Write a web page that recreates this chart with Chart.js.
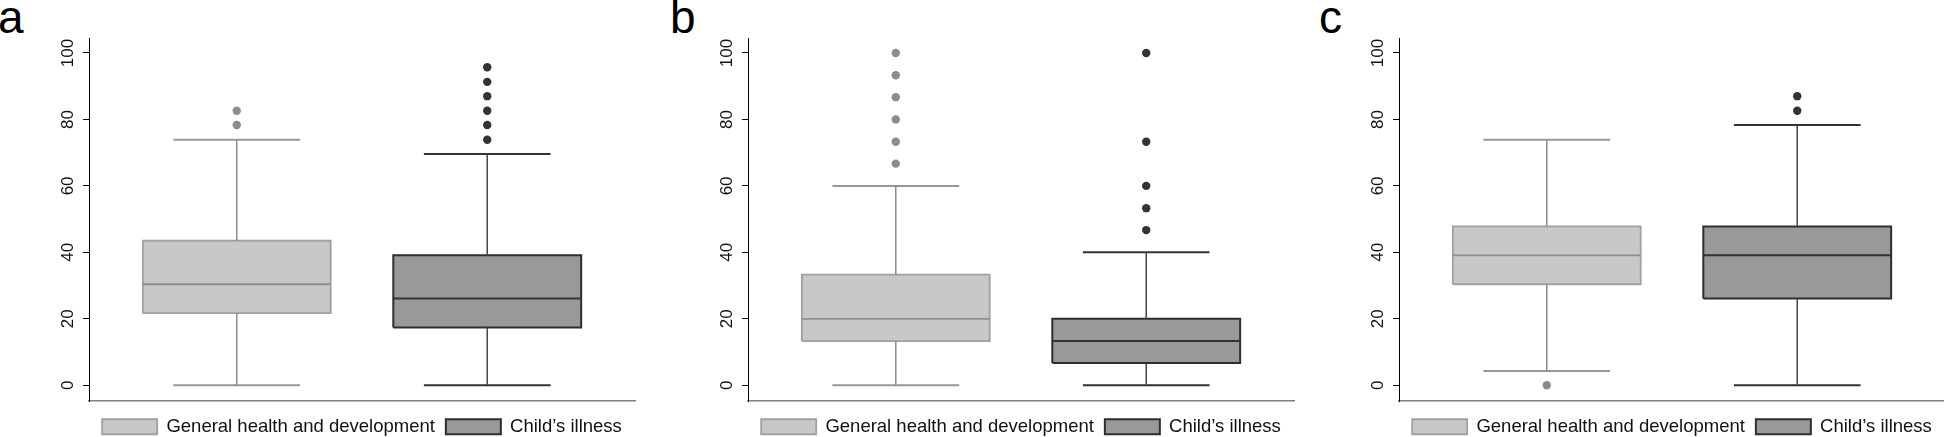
<!DOCTYPE html>
<html>
<head>
<meta charset="utf-8">
<script src="https://cdn.jsdelivr.net/npm/chart.js@4.4.1/dist/chart.umd.min.js"></script>
<style>
html, body { margin: 0; padding: 0; background: #fff; overflow: hidden; width: 1944px; height: 437px; }
.panel { position: absolute; top: 0; width: 640px; height: 446px; }
.tag { position: absolute; top: -6px; font-family: "Liberation Sans", Arial, Helvetica, sans-serif; font-size: 46px; line-height: 46px; color: #000; }
</style>
</head>
<body>
<div class="tag" style="left:-2px">a</div>
<div class="tag" style="left:670px">b</div>
<div class="tag" style="left:1319px">c</div>
<div class="panel" style="left:0px"><canvas id="chartA"></canvas></div>
<div class="panel" style="left:659px"><canvas id="chartB"></canvas></div>
<div class="panel" style="left:1310px"><canvas id="chartC"></canvas></div>
<script>
(function () {
    "use strict";

    var GROUPS = ["General health and development", "Child\u2019s illness"];
    var Y_TICKS = [0, 20, 40, 60, 80, 100];

    // [lower whisker, Q1, median, Q3, upper whisker]
    var A_GENERAL = [0, 21.7, 30.4, 43.5, 73.9];
    var A_GENERAL_OUT = [78.3, 82.6];
    var A_CHILD = [0, 17.4, 26.1, 39.1, 69.6];
    var A_CHILD_OUT = [73.9, 78.3, 82.6, 87.0, 91.3, 95.7];

    var B_GENERAL = [0, 13.3, 20.0, 33.3, 60.0];
    var B_GENERAL_OUT = [66.7, 73.3, 80.0, 86.7, 93.3, 100];
    var B_CHILD = [0, 6.7, 13.3, 20.0, 40.0];
    var B_CHILD_OUT = [46.7, 53.3, 60.0, 73.3, 100];

    var C_GENERAL = [4.3, 30.4, 39.1, 47.8, 73.9];
    var C_GENERAL_OUT = [0];
    var C_CHILD = [0, 26.1, 39.1, 47.8, 78.3];
    var C_CHILD_OUT = [82.6, 87.0];

    var FONT = '"Liberation Sans", Arial, Helvetica, sans-serif';
    var BOX_HALF = 0.375, CAP_HALF = 0.253;
    var STYLE = [
        { fill: "#c8c8c8", edge: "#a0a0a0", edgeW: 1.8, mid: "#8e8e8e", line: "#8e8e8e", cap: "#979797", dot: "#8c8c8c" },
        { fill: "#999999", edge: "#2e2e2e", edgeW: 2, mid: "#333333", line: "#474747", cap: "#333333", dot: "#333333" }
    ];

    // 箱ひげ1本分を line データセットで組み立てる（箱は fill:"shape" の多角形）
    function box(pos, s, out, st, label) {
        var gap = { x: pos, y: null };
        var L = pos - BOX_HALF, R = pos + BOX_HALF;
        return [
            { label: label, order: 2, fill: "shape",
              data: [{ x: L, y: s[1] }, { x: R, y: s[1] }, { x: R, y: s[3] }, { x: L, y: s[3] }, { x: L, y: s[1] }],
              backgroundColor: st.fill, borderColor: st.edge, borderWidth: st.edgeW, borderJoinStyle: "miter" },
            { label: "", order: 1,
              data: [{ x: L, y: s[2] }, { x: R, y: s[2] }],
              borderColor: st.mid, borderWidth: st.edgeW },
            { label: "", order: 1,
              data: [{ x: pos, y: s[3] }, { x: pos, y: s[4] }, gap, { x: pos, y: s[1] }, { x: pos, y: s[0] }],
              borderColor: st.line, borderWidth: 1.5 },
            { label: "", order: 1,
              data: [{ x: pos - CAP_HALF, y: s[4] }, { x: pos + CAP_HALF, y: s[4] }, gap,
                     { x: pos - CAP_HALF, y: s[0] }, { x: pos + CAP_HALF, y: s[0] }],
              borderColor: st.cap, borderWidth: 2 },
            { label: "", order: 0, showLine: false,
              data: out.map(function (v) { return { x: pos, y: v }; }),
              pointRadius: 4.2, pointBackgroundColor: st.dot, pointBorderWidth: 0 }
        ];
    }

    // 縦軸の目盛ラベルは90度回転で描く（Chart.js は縦軸の回転に未対応）
    var rotatedTicks = {
        id: "rotatedTicks",
        afterDraw: function (chart) {
            var y = chart.scales.y, ctx = chart.ctx, x0 = chart.chartArea.left - 21;
            ctx.save();
            ctx.font = "17px " + FONT;
            ctx.fillStyle = "#111";
            ctx.textAlign = "center";
            ctx.textBaseline = "middle";
            Y_TICKS.forEach(function (v) {
                ctx.save();
                ctx.translate(x0, y.getPixelForValue(v));
                ctx.rotate(-Math.PI / 2);
                ctx.fillText(String(v), 0, 0);
                ctx.restore();
            });
            ctx.restore();
        }
    };

    function panel(id, general, generalOut, child, childOut) {
        var datasets = box(1, general, generalOut, STYLE[0], GROUPS[0])
            .concat(box(2, child, childOut, STYLE[1], GROUPS[1]));
        datasets.forEach(function (d) { if (d.pointRadius === undefined) d.pointRadius = 0; });
        return new Chart(document.getElementById(id), {
            type: "line",
            data: { datasets: datasets },
            plugins: [rotatedTicks],
            options: {
                responsive: true,
                maintainAspectRatio: false,
                animation: false,
                events: [],
                layout: { padding: { left: 83, right: 5, top: 38, bottom: 0 } },
                scales: {
                    x: { type: "linear", min: 0.41, max: 2.59,
                         ticks: { display: false },
                         grid: { drawOnChartArea: false, tickLength: 5.25, tickColor: "rgba(0,0,0,0)" },
                         border: { color: "#808080", width: 1.6 } },
                    y: { type: "linear", min: -4.8, max: 104.5,
                         afterBuildTicks: function (s) { s.ticks = Y_TICKS.map(function (v) { return { value: v }; }); },
                         ticks: { display: false },
                         grid: { drawOnChartArea: false, tickLength: 6, color: "#000", lineWidth: 1 },
                         border: { color: "#000", width: 1 } }
                },
                plugins: {
                    tooltip: { enabled: false },
                    legend: {
                        position: "bottom",
                        fullSize: false,
                        labels: {
                            boxWidth: 55, boxHeight: 15, padding: 11,
                            color: "#111",
                            font: { size: 18.5, family: FONT },
                            filter: function (item) { return item.text !== ""; }
                        }
                    }
                }
            }
        });
    }

    panel("chartA", A_GENERAL, A_GENERAL_OUT, A_CHILD, A_CHILD_OUT);
    panel("chartB", B_GENERAL, B_GENERAL_OUT, B_CHILD, B_CHILD_OUT);
    panel("chartC", C_GENERAL, C_GENERAL_OUT, C_CHILD, C_CHILD_OUT);
})();
</script>
</body>
</html>
